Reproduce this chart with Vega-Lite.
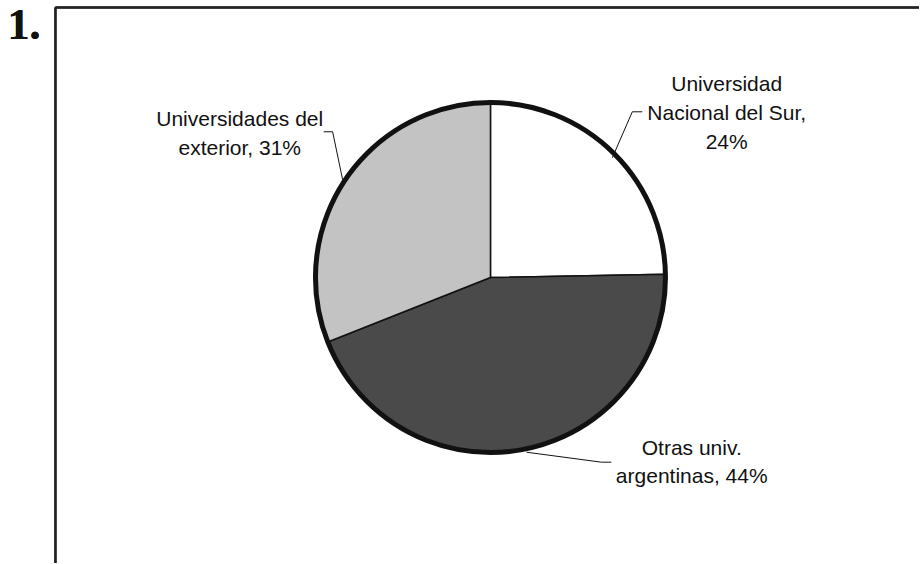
{
  "$schema": "https://vega.github.io/schema/vega-lite/v6.json",
  "width": 920,
  "height": 564,
  "autosize": {"type": "fit", "contains": "padding"},
  "padding": 0,
  "background": "white",
  "config": {"view": {"stroke": null}},
  "datasets": {
    "pie": [
      {"categoria": "Universidad Nacional del Sur", "valor": 24.7, "orden": 1, "etiqueta": "Universidad\nNacional del Sur,\n24%"},
      {"categoria": "Otras univ. argentinas", "valor": 44.3, "orden": 2, "etiqueta": "Otras univ.\nargentinas, 44%"},
      {"categoria": "Universidades del exterior", "valor": 31.0, "orden": 3, "etiqueta": "Universidades del\nexterior, 31%"}
    ]
  },
  "data": {"name": "pie"},
  "layer": [
    {
      "mark": {"type": "rule", "stroke": "#222222", "strokeWidth": 2},
      "encoding": {
        "x": {"datum": 55.5, "type": "quantitative", "scale": {"domain": [0, 920], "nice": false, "zero": false}, "axis": null},
        "x2": {"datum": 920},
        "y": {"datum": 7.5, "type": "quantitative", "scale": {"domain": [0, 564], "nice": false, "zero": false, "reverse": true}, "axis": null},
        "y2": {"datum": 7.5}
      }
    },
    {
      "mark": {"type": "rule", "stroke": "#222222", "strokeWidth": 2},
      "encoding": {
        "x": {"datum": 55.5, "type": "quantitative"},
        "x2": {"datum": 55.5},
        "y": {"datum": 7.5, "type": "quantitative"},
        "y2": {"datum": 564}
      }
    },
    {
      "mark": {"type": "text", "font": "Liberation Serif", "fontWeight": "bold", "fontSize": 44, "align": "center", "baseline": "alphabetic", "color": "#111111"},
      "encoding": {
        "x": {"datum": 24, "type": "quantitative"},
        "y": {"datum": 39, "type": "quantitative"},
        "text": {"value": "1."}
      }
    },
    {
      "mark": {"type": "arc", "radius": 175, "stroke": "#111111", "strokeWidth": 1.5},
      "encoding": {
        "theta": {"field": "valor", "type": "quantitative", "stack": true},
        "order": {"field": "orden", "type": "quantitative"},
        "color": {
          "field": "categoria", "type": "nominal",
          "scale": {"domain": ["Universidad Nacional del Sur", "Otras univ. argentinas", "Universidades del exterior"], "range": ["#ffffff", "#4a4a4a", "#c3c3c3"]},
          "legend": null
        },
        "x": {"datum": 491, "type": "quantitative"},
        "y": {"datum": 278, "type": "quantitative"}
      }
    },
    {
      "data": {"values": [{}]},
      "mark": {"type": "arc", "radius": 175, "theta": 0, "theta2": 6.2832, "fill": null, "stroke": "#111111", "strokeWidth": 5},
      "encoding": {
        "x": {"datum": 491, "type": "quantitative"},
        "y": {"datum": 278, "type": "quantitative"}
      }
    },
    {
      "transform": [{"filter": "datum.orden == 1"}],
      "mark": {"type": "text", "font": "Liberation Sans", "fontSize": 21, "align": "center", "baseline": "alphabetic", "lineBreak": "\n", "lineHeight": 29, "color": "#111111"},
      "encoding": {
        "x": {"datum": 727.5, "type": "quantitative"},
        "y": {"datum": 91, "type": "quantitative"},
        "text": {"field": "etiqueta"}
      }
    },
    {
      "transform": [{"filter": "datum.orden == 2"}],
      "mark": {"type": "text", "font": "Liberation Sans", "fontSize": 21, "align": "center", "baseline": "alphabetic", "lineBreak": "\n", "lineHeight": 28.5, "color": "#111111"},
      "encoding": {
        "x": {"datum": 692.5, "type": "quantitative"},
        "y": {"datum": 455.5, "type": "quantitative"},
        "text": {"field": "etiqueta"}
      }
    },
    {
      "transform": [{"filter": "datum.orden == 3"}],
      "mark": {"type": "text", "font": "Liberation Sans", "fontSize": 21, "align": "center", "baseline": "alphabetic", "lineBreak": "\n", "lineHeight": 29, "color": "#111111"},
      "encoding": {
        "x": {"datum": 240, "type": "quantitative"},
        "y": {"datum": 126, "type": "quantitative"},
        "text": {"field": "etiqueta"}
      }
    },
    {
      "data": {"values": [{}]},
      "mark": {"type": "rule", "stroke": "#111111", "strokeWidth": 1},
      "encoding": {"x": {"datum": 613, "type": "quantitative"}, "y": {"datum": 158, "type": "quantitative"}, "x2": {"datum": 633}, "y2": {"datum": 112}}
    },
    {
      "data": {"values": [{}]},
      "mark": {"type": "rule", "stroke": "#111111", "strokeWidth": 1},
      "encoding": {"x": {"datum": 633, "type": "quantitative"}, "y": {"datum": 112, "type": "quantitative"}, "x2": {"datum": 643}, "y2": {"datum": 112}}
    },
    {
      "data": {"values": [{}]},
      "mark": {"type": "rule", "stroke": "#111111", "strokeWidth": 1},
      "encoding": {"x": {"datum": 324, "type": "quantitative"}, "y": {"datum": 132, "type": "quantitative"}, "x2": {"datum": 333}, "y2": {"datum": 132}}
    },
    {
      "data": {"values": [{}]},
      "mark": {"type": "rule", "stroke": "#111111", "strokeWidth": 1},
      "encoding": {"x": {"datum": 333, "type": "quantitative"}, "y": {"datum": 132, "type": "quantitative"}, "x2": {"datum": 343}, "y2": {"datum": 180}}
    },
    {
      "data": {"values": [{}]},
      "mark": {"type": "rule", "stroke": "#111111", "strokeWidth": 1},
      "encoding": {"x": {"datum": 527, "type": "quantitative"}, "y": {"datum": 453, "type": "quantitative"}, "x2": {"datum": 602}, "y2": {"datum": 463}}
    },
    {
      "data": {"values": [{}]},
      "mark": {"type": "rule", "stroke": "#111111", "strokeWidth": 1},
      "encoding": {"x": {"datum": 602, "type": "quantitative"}, "y": {"datum": 463, "type": "quantitative"}, "x2": {"datum": 612}, "y2": {"datum": 463}}
    }
  ]
}
